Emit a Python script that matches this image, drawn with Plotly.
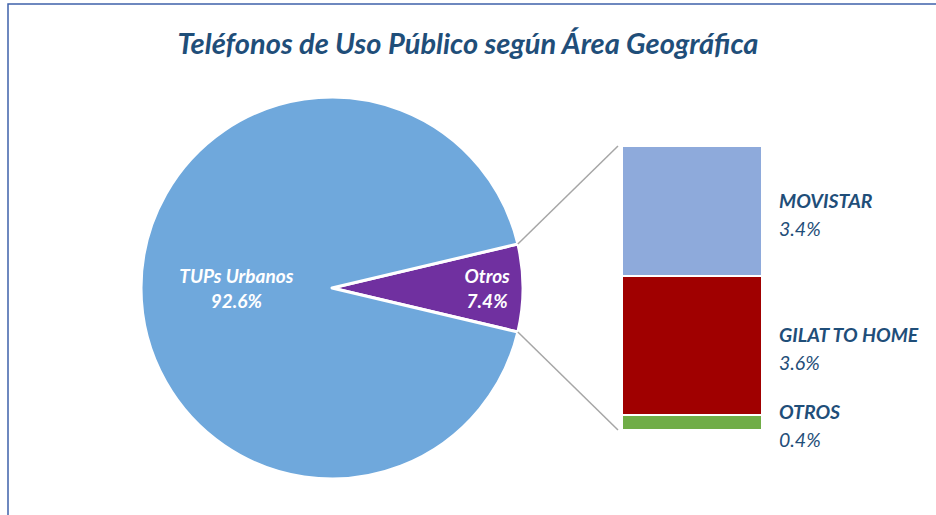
import math
import plotly.graph_objects as go

W, H = 936, 515

title = "Teléfonos de Uso Público según Área Geográfica"
pie_labels = ["Otros", "TUPs Urbanos"]
pie_values = [7.4, 92.6]
pie_colors = ["#7030a0", "#6fa8dc"]

bar_labels = ["OTROS", "GILAT TO HOME", "MOVISTAR"]
bar_values = [0.4, 3.6, 3.4]
bar_colors = ["#70ad47", "#a00000", "#8eaadb"]

NAVY = "#1f4e79"
FONT = "Lato"

def px(x):
    return x / W

def py(y):
    return 1 - y / H

# pie geometry (pixels)
cx, cy, r = 332, 288, 191
pie_dom_x = [px(cx - r), px(cx + r)]
pie_dom_y = [py(cy + r), py(cy - r)]

# bar geometry (pixels)
bx0, bx1, by0, by1 = 622, 762, 146, 430

half_angle = pie_values[0] * 3.6 / 2
rotation = 90 - half_angle

fig = go.Figure()
fig.add_trace(go.Pie(
    labels=pie_labels, values=pie_values, sort=False, direction="clockwise",
    rotation=rotation,
    marker=dict(colors=pie_colors, line=dict(color="white", width=3)),
    domain=dict(x=pie_dom_x, y=pie_dom_y),
    texttemplate="%{label}<br>%{percent:.1%}",
    textposition="inside", insidetextorientation="horizontal",
    textfont=dict(family=FONT, size=19, color="white", weight="bold", style="italic"),
    showlegend=False, hoverinfo="label+percent",
))

total = sum(bar_values)
for lab, val, col in zip(bar_labels, bar_values, bar_colors):
    fig.add_trace(go.Bar(
        x=[0], y=[val], name=lab, width=1,
        marker=dict(color=col, line=dict(color="white", width=2)),
        showlegend=False,
    ))

anns = []
base = 0
for lab, val in zip(bar_labels, bar_values):
    mid = base + val / 2
    anns.append(dict(
        x=0.5, y=mid, xref="x", yref="y", xanchor="left", yanchor="middle",
        xshift=15, yshift=11, showarrow=False, align="left",
        text=f"<b>{lab}</b>",
        font=dict(family=FONT, size=19.5, color=NAVY, style="italic"),
    ))
    anns.append(dict(
        x=0.5, y=mid, xref="x", yref="y", xanchor="left", yanchor="middle",
        xshift=15, yshift=-17, showarrow=False, align="left",
        text=f"{val:.1f}%",
        font=dict(family=FONT, size=19.5, color=NAVY, style="italic"),
    ))
    base += val

a = math.radians(half_angle)
ex = cx + r * math.cos(a)
shapes = [
    dict(type="rect", xref="paper", yref="paper", x0=px(8), x1=px(W + 5), y0=py(H + 5), y1=py(4),
         line=dict(color="#3f62ab", width=1.5), fillcolor="rgba(0,0,0,0)", layer="below"),
    dict(type="line", xref="paper", yref="paper", x0=px(ex), y0=py(cy - r * math.sin(a)),
         x1=px(bx0 - 4), y1=py(by0), line=dict(color="#a6a6a6", width=1.5)),
    dict(type="line", xref="paper", yref="paper", x0=px(ex), y0=py(cy + r * math.sin(a)),
         x1=px(bx0 - 4), y1=py(by1), line=dict(color="#a6a6a6", width=1.5)),
]

fig.update_layout(
    width=W, height=H, margin=dict(l=0, r=0, t=0, b=0),
    paper_bgcolor="white", plot_bgcolor="white",
    barmode="stack",
    title=dict(text=f"<b><i>{title}</i></b>", x=0.5, xanchor="center", y=py(44), yanchor="middle",
               font=dict(family=FONT, size=29, color=NAVY)),
    xaxis=dict(domain=[px(bx0), px(bx1)], range=[-0.5, 0.5], visible=False, fixedrange=True),
    yaxis=dict(domain=[py(by1), py(by0)], range=[0, total], visible=False, fixedrange=True),
    annotations=anns, shapes=shapes,
)

fig.write_html("out.html", post_script="document.body.style.margin='0';",
               config={"displayModeBar": False})
